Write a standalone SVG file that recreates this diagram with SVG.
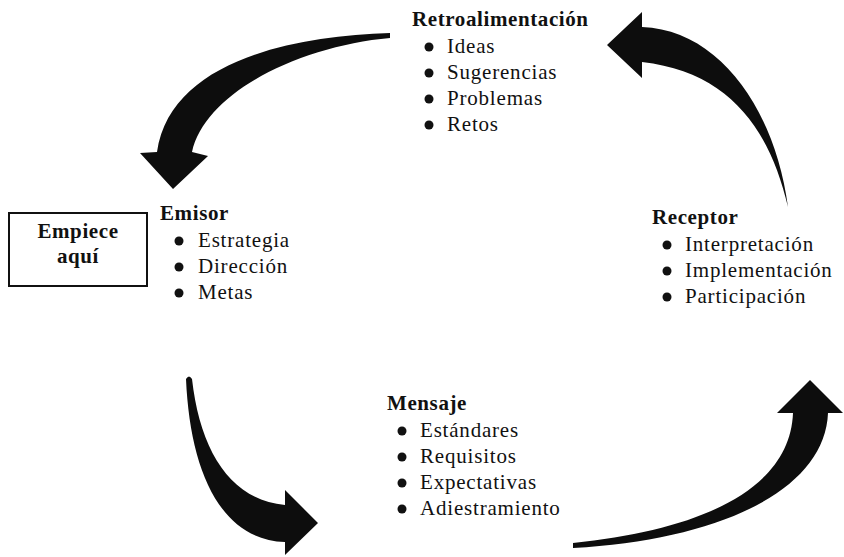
<svg xmlns="http://www.w3.org/2000/svg" width="844" height="557" viewBox="0 0 844 557">
<style>
  text { font-family: "Liberation Serif", "Times New Roman", serif; fill: #111; }
  .h { font-size: 21px; font-weight: bold; letter-spacing: 0.6px; }
  .i { font-size: 21px; letter-spacing: 0.8px; }
  .b { fill: #111; }
  .arrow { fill: #0d0d0d; stroke: none; }
  .box { fill: #fff; stroke: #111; stroke-width: 2; }
</style>
<rect width="844" height="557" fill="#fff"/>
<g id="connectors">
  <path class="arrow" d="M 390,33 C 290,36 170,62 157,152 L 140,153 L 173,189 L 208,156 L 192,152 C 205,92 300,46 390,38 Z"/>
  <path class="arrow" d="M 642,27 C 720,30 775,110 788,207 C 770,130 730,72 642,62 L 642,78 L 607,45 L 642,12 Z"/>
  <path class="arrow" d="M 186,379 C 190,470 220,540 285,542 L 285,555 L 318,523 L 285,490 L 285,505 C 230,500 200,450 192,379 Q 189,374 186,379 Z"/>
  <path class="arrow" d="M 573,543 C 700,530 790,490 793,413 L 777,413 L 810,380 L 843,413 L 828,413 C 825,490 720,540 573,548 Z"/>
</g>
<g id="start">
  <rect class="box" x="9" y="213" width="138" height="73"/>
  <text class="h" x="78" y="238" text-anchor="middle">Empiece</text>
  <text class="h" x="78" y="263" text-anchor="middle">aquí</text>
</g>
<g id="retroalimentacion">
  <text class="h" x="412" y="26">Retroalimentación</text>
  <circle class="b" cx="429" cy="47" r="4.5"/><text class="i" x="447" y="53">Ideas</text>
  <circle class="b" cx="429" cy="73" r="4.5"/><text class="i" x="447" y="79">Sugerencias</text>
  <circle class="b" cx="429" cy="99" r="4.5"/><text class="i" x="447" y="105">Problemas</text>
  <circle class="b" cx="429" cy="125" r="4.5"/><text class="i" x="447" y="131">Retos</text>
</g>
<g id="emisor">
  <text class="h" x="160" y="220">Emisor</text>
  <circle class="b" cx="179" cy="241" r="4.5"/><text class="i" x="198" y="247">Estrategia</text>
  <circle class="b" cx="179" cy="267" r="4.5"/><text class="i" x="198" y="273">Dirección</text>
  <circle class="b" cx="179" cy="293" r="4.5"/><text class="i" x="198" y="299">Metas</text>
</g>
<g id="receptor">
  <text class="h" x="652" y="224">Receptor</text>
  <circle class="b" cx="667" cy="245" r="4.5"/><text class="i" x="685" y="251">Interpretación</text>
  <circle class="b" cx="667" cy="271" r="4.5"/><text class="i" x="685" y="277">Implementación</text>
  <circle class="b" cx="667" cy="297" r="4.5"/><text class="i" x="685" y="303">Participación</text>
</g>
<g id="mensaje">
  <text class="h" x="387" y="410">Mensaje</text>
  <circle class="b" cx="402" cy="431" r="4.5"/><text class="i" x="420" y="437">Estándares</text>
  <circle class="b" cx="402" cy="457" r="4.5"/><text class="i" x="420" y="463">Requisitos</text>
  <circle class="b" cx="402" cy="483" r="4.5"/><text class="i" x="420" y="489">Expectativas</text>
  <circle class="b" cx="402" cy="509" r="4.5"/><text class="i" x="420" y="515">Adiestramiento</text>
</g>
</svg>
